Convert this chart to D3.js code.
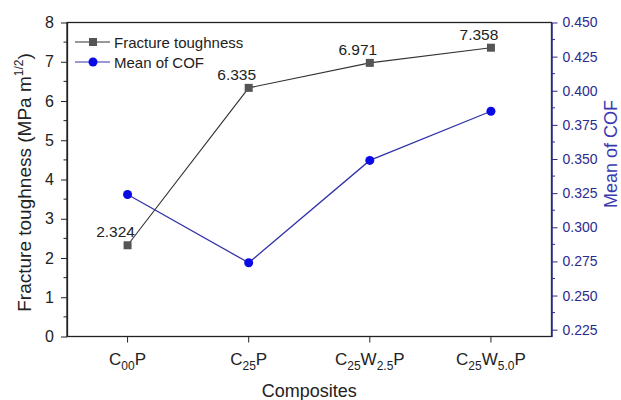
<!DOCTYPE html>
<html>
<head>
<meta charset="utf-8">
<script src="https://cdn.jsdelivr.net/npm/d3@7"></script>
<style>
body { margin: 0; background: #fff; }
text { font-family: "Liberation Sans", Arial, sans-serif; }
</style>
</head>
<body>
<script>
// chart values
var composites = ["C00P", "C25P", "C25W2.5P", "C25W5.0P"]
// label pieces, second item of each pair says if it is a subscript
var compositeLabels = [
    [["C", 0], ["00", 1], ["P", 0]],
    [["C", 0], ["25", 1], ["P", 0]],
    [["C", 0], ["25", 1], ["W", 0], ["2.5", 1], ["P", 0]],
    [["C", 0], ["25", 1], ["W", 0], ["5.0", 1], ["P", 0]]
]
var toughness = [2.324, 6.335, 6.971, 7.358]
var cof = [0.324, 0.274, 0.349, 0.385]
var leftTicks = [0, 1, 2, 3, 4, 5, 6, 7, 8]
var rightTicks = [0.225, 0.250, 0.275, 0.300, 0.325, 0.350, 0.375, 0.400, 0.425, 0.450]
var seriesNames = ["Fracture toughness", "Mean of COF"]

var screensize = {width: 621, height: 400}
var plot = {left: 67, right: 551.5, top: 22.5, bottom: 336.5}
var navy = "#2b2b8f"

var svg = d3.select("body")
    .append("svg")
    .attr("width", screensize.width)
    .attr("height", screensize.height)

var xscale = d3.scalePoint()
    .domain(composites)
    .range([plot.left, plot.right])
    .padding(0.5)

var yscale = d3.scaleLinear()
    .domain([0, 8])
    .range([plot.bottom, plot.top])

var y2scale = d3.scaleLinear()
    .domain([0.22, 0.45])
    .range([plot.bottom, plot.top])

// frame
svg.append("rect")
    .attr("x", plot.left)
    .attr("y", plot.top)
    .attr("width", plot.right - plot.left)
    .attr("height", plot.bottom - plot.top)
    .attr("fill", "none")
    .attr("stroke", "#222")
    .attr("stroke-width", 1.3)

// left axis
var leftAxis = svg.append("g")
    .attr("transform", "translate(" + plot.left + ",0)")
    .call(d3.axisLeft(yscale).tickValues(leftTicks).tickSize(6).tickPadding(7).tickSizeOuter(0))
leftAxis.select(".domain").attr("stroke", "#222").attr("stroke-width", 1.3)
leftAxis.selectAll(".tick line").attr("stroke", "#222")
leftAxis.selectAll(".tick text")
    .attr("font-size", 16)
    .attr("fill", "#222")
    .attr("font-family", "Liberation Sans, Arial, sans-serif")

var leftMinor = d3.range(0, 8, 1).map(function (v) { return v + 0.5 })
svg.append("g")
    .selectAll("line")
    .data(leftMinor)
    .enter()
    .append("line")
    .attr("x1", plot.left - 3.5)
    .attr("x2", plot.left)
    .attr("y1", function (v) { return yscale(v) })
    .attr("y2", function (v) { return yscale(v) })
    .attr("stroke", "#222")

// right axis
var rightAxis = svg.append("g")
    .attr("transform", "translate(" + plot.right + ",0)")
    .call(d3.axisRight(y2scale).tickValues(rightTicks).tickFormat(d3.format(".3f")).tickSize(6).tickPadding(5).tickSizeOuter(0))
rightAxis.select(".domain").attr("stroke", navy).attr("stroke-width", 1.5)
rightAxis.selectAll(".tick line").attr("stroke", navy)
rightAxis.selectAll(".tick text")
    .attr("font-size", 14)
    .attr("fill", navy)
    .attr("font-family", "Liberation Sans, Arial, sans-serif")

var rightMinor = rightTicks.slice(0, -1).map(function (v) { return v + 0.0125 })
svg.append("g")
    .selectAll("line")
    .data(rightMinor)
    .enter()
    .append("line")
    .attr("x1", plot.right)
    .attr("x2", plot.right + 3.5)
    .attr("y1", function (v) { return y2scale(v) })
    .attr("y2", function (v) { return y2scale(v) })
    .attr("stroke", navy)

// bottom ticks and labels
svg.append("g")
    .selectAll("line")
    .data(composites)
    .enter()
    .append("line")
    .attr("x1", function (c) { return xscale(c) })
    .attr("x2", function (c) { return xscale(c) })
    .attr("y1", plot.bottom)
    .attr("y2", plot.bottom + 6)
    .attr("stroke", "#222")

var catText = svg.append("g")
    .selectAll("text")
    .data(composites)
    .enter()
    .append("text")
    .attr("x", function (c) { return xscale(c) })
    .attr("y", 365)
    .attr("text-anchor", "middle")
    .attr("font-size", 17)
    .attr("fill", "#222")

catText.each(function (c, i) {
    var t = d3.select(this)
    compositeLabels[i].forEach(function (part) {
        var span = t.append("tspan").text(part[0])
        if (part[1]) {
            span.attr("font-size", 12).attr("dy", 5)
        } else {
            span.attr("dy", t.selectAll("tspan").size() > 1 ? -5 : 0)
        }
    })
})

// axis titles
svg.append("text")
    .attr("x", (plot.left + plot.right) / 2)
    .attr("y", 397)
    .attr("text-anchor", "middle")
    .attr("font-size", 18)
    .attr("fill", "#222")
    .text("Composites")

var ytitle = svg.append("text")
    .attr("transform", "translate(31," + ((plot.top + plot.bottom) / 2 + 3) + ") rotate(-90)")
    .attr("text-anchor", "middle")
    .attr("font-size", 19)
    .attr("fill", "#222")
ytitle.append("tspan").text("Fracture toughness (MPa m")
ytitle.append("tspan").text("1/2").attr("font-size", 12).attr("dy", -8)
ytitle.append("tspan").text(")").attr("dy", 8)

svg.append("text")
    .attr("transform", "translate(617,154) rotate(-90)")
    .attr("text-anchor", "middle")
    .attr("font-size", 18)
    .attr("fill", "#3a3ab0")
    .text("Mean of COF")

// fracture toughness series
var line1 = d3.line()
    .x(function (d, i) { return xscale(composites[i]) })
    .y(function (d) { return yscale(d) })

svg.append("path")
    .datum(toughness)
    .attr("d", line1)
    .attr("fill", "none")
    .attr("stroke", "#333")
    .attr("stroke-width", 1.1)

svg.append("g")
    .selectAll("rect")
    .data(toughness)
    .enter()
    .append("rect")
    .attr("x", function (d, i) { return xscale(composites[i]) - 4 })
    .attr("y", function (d) { return yscale(d) - 4 })
    .attr("width", 8)
    .attr("height", 8)
    .attr("fill", "#555")

svg.append("g")
    .selectAll("text")
    .data(toughness)
    .enter()
    .append("text")
    .attr("x", function (d, i) { return xscale(composites[i]) - 12 })
    .attr("y", function (d) { return yscale(d) - 8 })
    .attr("text-anchor", "middle")
    .attr("font-size", 15.5)
    .attr("fill", "#222")
    .text(function (d) { return d3.format(".3f")(d) })

// COF series
var line2 = d3.line()
    .x(function (d, i) { return xscale(composites[i]) })
    .y(function (d) { return y2scale(d) })

svg.append("path")
    .datum(cof)
    .attr("d", line2)
    .attr("fill", "none")
    .attr("stroke", "#3333a8")
    .attr("stroke-width", 1.3)

svg.append("g")
    .selectAll("circle")
    .data(cof)
    .enter()
    .append("circle")
    .attr("cx", function (d, i) { return xscale(composites[i]) })
    .attr("cy", function (d) { return y2scale(d) })
    .attr("r", 4.5)
    .attr("fill", "#0a0ae6")

// legend
var legend = svg.append("g")
    .selectAll("g")
    .data(seriesNames)
    .enter()
    .append("g")
    .attr("transform", function (d, i) { return "translate(0," + (42 + i * 20) + ")" })

legend.append("line")
    .attr("x1", 75)
    .attr("x2", 110)
    .attr("stroke", function (d, i) { return i == 0 ? "#333" : "#3333a8" })
    .attr("stroke-width", 1.2)

legend.append("rect")
    .filter(function (d, i) { return i == 0 })
    .attr("x", 89)
    .attr("y", -4)
    .attr("width", 8)
    .attr("height", 8)
    .attr("fill", "#555")

legend.filter(function (d, i) { return i == 1 })
    .append("circle")
    .attr("cx", 93)
    .attr("r", 4.5)
    .attr("fill", "#0a0ae6")

legend.append("text")
    .attr("x", 114)
    .attr("y", 5.5)
    .attr("font-size", 15)
    .attr("fill", "#222")
    .text(function (d) { return d })
</script>
</body>
</html>
